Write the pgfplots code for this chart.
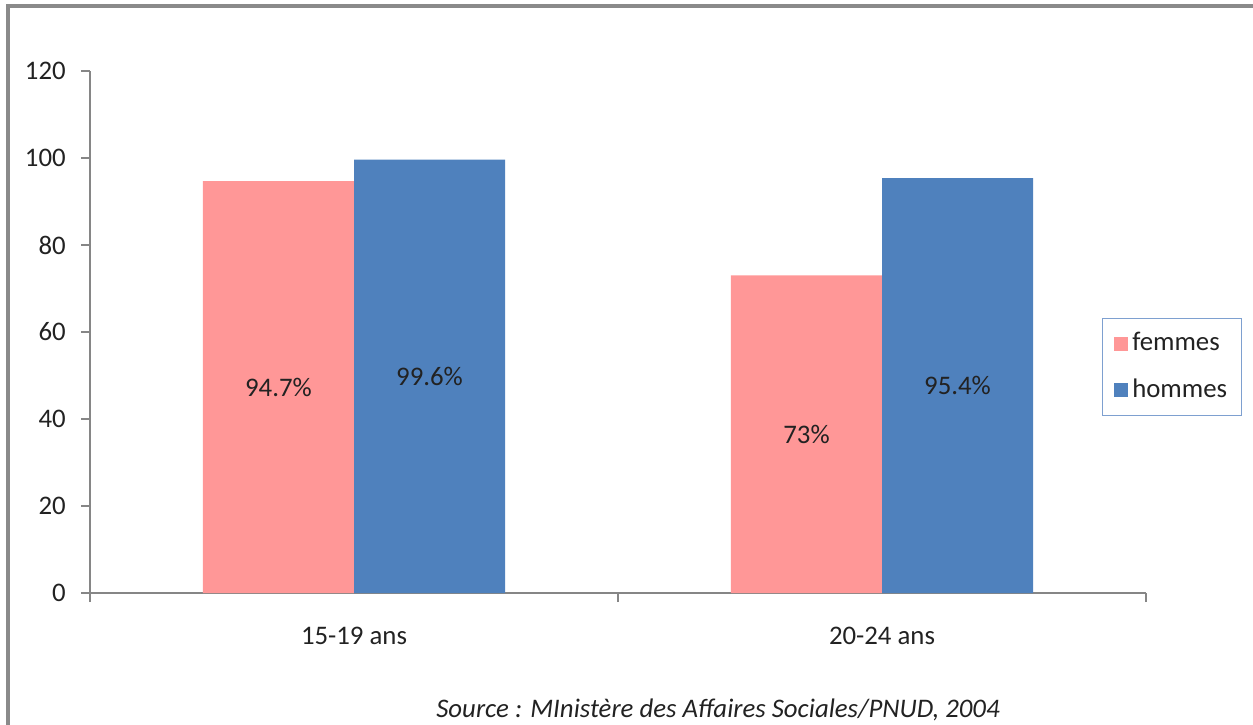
\documentclass[border=0pt]{standalone}
\usepackage{pgfplots}
\pgfplotsset{compat=1.18}
\usepackage{fontspec}
\setmainfont{Carlito}
\definecolor{femcol}{HTML}{FF9797}
\definecolor{homcol}{HTML}{4F81BD}
\definecolor{axgray}{HTML}{868686}
\definecolor{framegray}{HTML}{8A8A8A}
\definecolor{legframe}{HTML}{7EA0D0}
\definecolor{labtext}{HTML}{222222}

\pgfplotstableread{
x femmes hommes
0 94.7 99.6
1 73.0 95.4
}\taux

\newcommand\chartfont{\fontsize{13.4pt}{16pt}\selectfont}

\begin{document}
\begin{tikzpicture}
\chartfont
% page extent and outer chart frame
\useasboundingbox (-45pt,-65.5pt) rectangle (581.5pt,296.5pt);
\draw[framegray, line width=1.6pt] (-41pt,-66pt) -- (-41pt,293.5pt) -- (582pt,293.5pt);
\begin{axis}[
  at={(0,0)}, anchor=south west,
  x=264pt, y=2.175pt,
  xmin=-0.5, xmax=1.5, ymin=0, ymax=120,
  axis x line=bottom, axis y line=left,
  axis line style={-, axgray, line width=0.6pt},
  every tick/.style={axgray, line width=0.6pt},
  tick align=outside,
  major tick length=4.5pt,
  ytick={0,20,...,120},
  xtick={-0.5,0.5,1.5},
  xticklabels={},
  extra x ticks={0,1},
  extra x tick labels={15-19 ans, 20-24 ans},
  extra x tick style={tick style={draw=none}},
  /pgf/number format/assume math mode=true,
  ticklabel style={font=\chartfont, text=labtext},
  yticklabel style={xshift=-3pt},
  xticklabel style={yshift=-8pt},
  ybar=0pt, bar width=0.286,
  point meta=y,
  nodes near coords={\pgfmathprintnumber{\pgfplotspointmeta}\%},
  visualization depends on={rawy \as \rawy},
  every node near coord/.append style={anchor=center, yshift=-\rawy*1.0875pt,
    font=\chartfont, text=labtext},
  legend style={at={(rel axis cs:0.958,0.527)}, anchor=north west,
    draw=legframe, line width=0.6pt, inner xsep=6pt, inner ysep=5pt,
    row sep=8pt, font=\chartfont, text=labtext,
    nodes={inner xsep=1pt}},
  legend cell align=left,
  legend image code/.code={\fill[#1] (0pt,-3.5pt) rectangle (7pt,3.5pt);
    \path (8pt,0pt);},
  clip=false,
]
\addplot[fill=femcol, draw=none] table[x=x, y=femmes] {\taux};
\addlegendentry{femmes}
\addplot[fill=homcol, draw=none] table[x=x, y=hommes] {\taux};
\addlegendentry{hommes}
\end{axis}
\node[font=\itshape\chartfont, text=labtext] at (314pt,-58.5pt) {Source : MInistère des Affaires Sociales/PNUD, 2004};
\end{tikzpicture}
\end{document}
